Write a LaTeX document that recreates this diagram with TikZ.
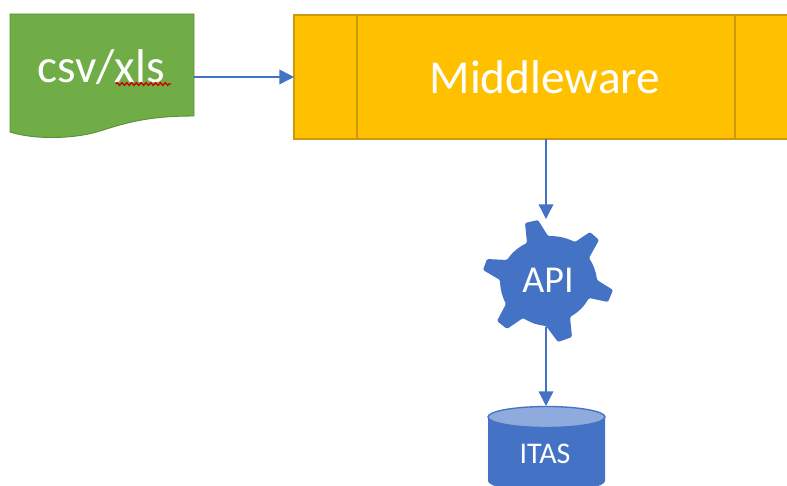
\documentclass[tikz,border=0pt]{standalone}
\usepackage{fontspec}
\setmainfont{Carlito}
\usetikzlibrary{arrows.meta,decorations.pathmorphing}
\definecolor{cgreen}{HTML}{70AD47}
\definecolor{cgreend}{HTML}{5B8F3A}
\definecolor{cyellow}{HTML}{FFC000}
\definecolor{cyellowd}{HTML}{C99A10}
\definecolor{cblue}{HTML}{4472C4}
\definecolor{cbluel}{HTML}{8FAADC}
\tikzset{
  anchorbox/.style={inner sep=0pt,outer sep=0pt,minimum width=#1},
  label/.style={text=white,inner sep=0pt},
  conn/.style={draw=cblue,line width=1pt,-{Triangle[length=11pt,width=11pt]}},
}
\begin{document}
\begin{tikzpicture}[x=0.75pt,y=-0.75pt]
\useasboundingbox (0,0) rectangle (787,485);
\clip (0,0) rectangle (787,485);
% document shape
\fill[cgreen,draw=cgreend,line width=0.7pt] (10,14) -- (194,14) -- (194,116)
  .. controls (150,116) and (128,122) .. (100,131)
  .. controls (75,139) and (35,140) .. (10,132) -- cycle;
\node[anchorbox=138pt,minimum height=94.5pt] (csv) at (102,77) {};
\node[label,font=\fontsize{35.5}{36}\selectfont] (csvt) at (101,67) {csv/xls};
\draw[red!80!black,line width=1pt,decorate,decoration={zigzag,segment length=3.6pt,amplitude=1pt}] (116,84) -- (171,84);
% middleware
\fill[cyellow,draw=cyellowd,line width=0.8pt] (294,15) rectangle (800,139);
\draw[cyellowd,line width=0.8pt] (357,15) -- (357,139) (735,15) -- (735,139);
\node[anchorbox=369.75pt,minimum height=93pt] (mw) at (540.5,77) {};
\node[label,font=\fontsize{35.5}{36}\selectfont] (mwt) at (545,77) {Middleware};
% gear
\fill[cblue,rounded corners=1pt] (525,223) -- (538,220) -- (548,236)
  to[bend left=12] (575,242) -- (590,232) -- (599,240) -- (589,258)
  to[bend left=12] (597,280) -- (613,290) -- (608,302) -- (589,298)
  to[bend left=14] (570,317) -- (572,337) -- (558,342) -- (546,326)
  to[bend left=12] (523,318) -- (507,329) -- (497,321) -- (506,304)
  to[bend left=12] (500,280) -- (483,270) -- (487,259) -- (507,260)
  to[bend left=14] (527,243) -- cycle;
\node[anchorbox=60pt,minimum height=81pt] (api) at (546,273) {};
\node[label,font=\fontsize{28.5}{29}\selectfont] (apit) at (548,280) {API};
% cylinder
\fill[cblue] (488,417) -- (488,481) arc[start angle=180,end angle=0,x radius=58.5,y radius=10.5] -- (605,417) -- cycle;
\fill[cbluel,draw=cblue,line width=1pt] (546.5,417) ellipse [x radius=58.5,y radius=10.5];
\node[anchorbox=87.75pt,minimum height=60pt] (itas) at (546,446) {};
\node[label,font=\fontsize{22.5}{23}\selectfont] (itast) at (545,454) {ITAS};
% connectors
\draw[conn] (csv.east) -- (mw.west);
\draw[conn] (mw.south -| api.north) -- (api.north);
\draw[conn] (api.south) -- (itas.north);
\end{tikzpicture}
\end{document}
